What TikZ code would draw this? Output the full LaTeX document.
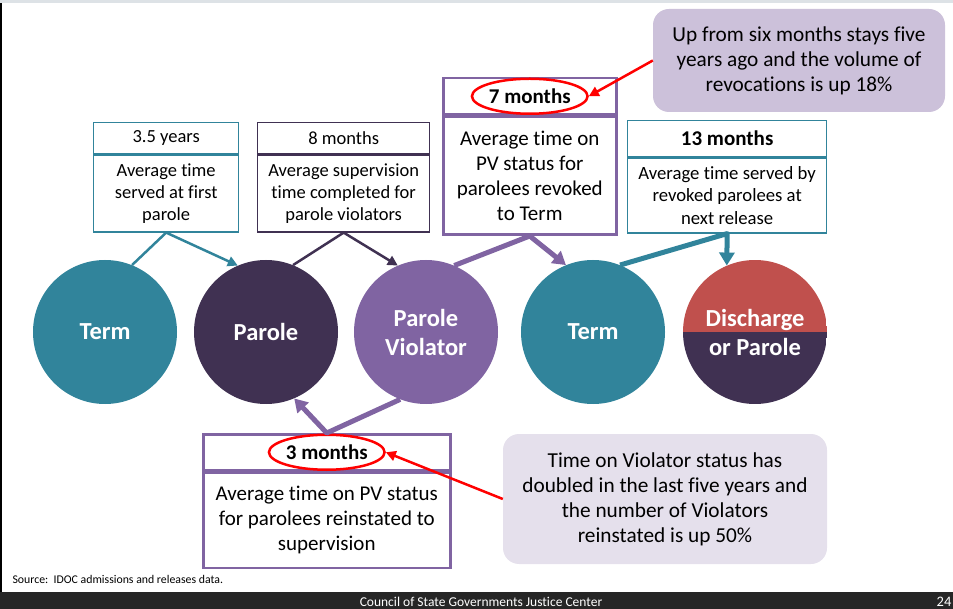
\documentclass[tikz,border=0pt]{standalone}
\usepackage{fontspec}
\setmainfont[Ligatures=NoCommon]{Carlito}
\usetikzlibrary{shapes.geometric,arrows.meta}

\definecolor{tealA}{HTML}{31849B}
\definecolor{plumdark}{HTML}{403152}
\definecolor{violetA}{HTML}{8064A2}
\definecolor{brick}{HTML}{C0504D}
\definecolor{noteA}{HTML}{CCC1DA}
\definecolor{noteB}{HTML}{E5E0EC}
\definecolor{footbg}{HTML}{262626}
\definecolor{topband}{HTML}{DDE2E6}
\definecolor{hilite}{HTML}{FF0000}

\begin{document}
\begin{tikzpicture}[x=1pt,y=-1pt,
  stage/.style={circle, minimum size=144pt, inner sep=0pt, text=white,
    font=\bfseries\fontsize{24.5}{29}\selectfont, align=center},
  hdrbox/.style={draw, fill=white, anchor=north west, inner sep=0pt, align=center},
  bodybox/.style={draw, fill=white, anchor=north west, inner sep=0pt, align=center},
  thinlink/.style={line width=2.5pt, line join=round, -{Triangle[length=10pt,width=10pt]}},
  thicklink/.style={line width=5pt, line join=round, -{Triangle[length=13pt,width=15pt]}},
  ring/.style={ellipse, draw=hilite, line width=2.5pt, inner sep=0pt,
    minimum width=108pt, minimum height=35pt, font=\bfseries\fontsize{21}{24}\selectfont},
  pointer/.style={hilite, line width=2.5pt, -{Triangle[length=10pt,width=10pt]}},
  note/.style={rounded corners=16pt, inner sep=0pt, align=center,
    font=\fontsize{21.3}{25}\selectfont}
]
\useasboundingbox (0,0) rectangle (953,609);

% slide frame
\fill[topband] (0,0) rectangle (953,3);
\fill[black] (0,3) rectangle (2,592);
\fill[footbg] (0,592) rectangle (953,609);
\node[text=white, font=\fontsize{13.5}{14}\selectfont] (foot) at (481,601.5) {Council of State Governments Justice Center};
\node[text=white, font=\fontsize{14.5}{15}\selectfont] (page) at (944,601.5) {24};
\node[anchor=west, font=\fontsize{11.8}{13}\selectfont] (src) at (9,579) {Source:\ \ IDOC admissions and releases data.};

% stages
\node[stage, fill=tealA] (term1) at (105,332) {Term};
\node[stage, fill=plumdark] (parole) at (266,332) {Parole};
\node[stage, fill=violetA] (pv) at (426,332) {Parole\\Violator};
\node[stage, fill=tealA] (term2) at (593,332) {Term};
\node[stage, path picture={
    \fill[brick] (path picture bounding box.north west) rectangle (path picture bounding box.east);
    \fill[plumdark] (path picture bounding box.west) rectangle (path picture bounding box.south east);
  }] (disc) at (755,332) {Discharge\\or Parole};

% box: 3.5 years
\node[hdrbox, draw=tealA, line width=1.3pt, minimum width=145pt, minimum height=31pt,
  font=\fontsize{18.5}{20}\selectfont] (h1) at (93,122) {3.5 years};
\node[bodybox, draw=tealA, line width=1.3pt, minimum width=145pt, minimum height=77pt,
  font=\fontsize{18.5}{22}\selectfont] (b1) at (h1.south west) {Average time\\served at first\\parole};

% box: 8 months
\node[hdrbox, draw=plumdark, line width=1.3pt, minimum width=172pt, minimum height=31pt,
  font=\fontsize{18.5}{20}\selectfont] (h2) at (257,122) {8 months};
\node[bodybox, draw=plumdark, line width=1.3pt, minimum width=172pt, minimum height=77pt,
  font=\fontsize{18.5}{22}\selectfont] (b2) at (h2.south west) {Average supervision\\time completed for\\parole violators};

% box: 7 months
\node[hdrbox, draw=violetA, line width=2.5pt, minimum width=173pt, minimum height=36pt] (h3) at (442,77) {};
\node[bodybox, draw=violetA, line width=2.5pt, minimum width=173pt, minimum height=118pt,
  font=\fontsize{21}{25}\selectfont] (b3) at (h3.south west) {Average time on\\PV status for\\parolees revoked\\to Term};
\node[ring] (r7) at (h3.center) {7 months};

% box: 13 months
\node[hdrbox, draw=tealA, line width=1.3pt, minimum width=199pt, minimum height=36pt,
  font=\bfseries\fontsize{21}{24}\selectfont] (h4) at (627,120) {13 months};
\node[bodybox, draw=tealA, line width=1.3pt, minimum width=199pt, minimum height=75pt,
  font=\fontsize{18.7}{22.5}\selectfont] (b4) at (h4.south west) {Average time served by\\revoked parolees at\\next release};

% box: 3 months
\node[hdrbox, draw=violetA, line width=2.5pt, minimum width=247pt, minimum height=36pt] (h5) at (202,433) {};
\node[bodybox, draw=violetA, line width=2.5pt, minimum width=247pt, minimum height=95pt,
  font=\fontsize{21}{25}\selectfont] (b5) at (h5.south west) {Average time on PV status\\for parolees reinstated to\\supervision};
\node[ring] (r3) at (h5.center) {3 months};

% flows between stages
\draw[tealA, thinlink] (term1.68) -- (b1.south) -- (parole.113);
\draw[plumdark, thinlink] (parole.68) -- (b2.south) -- (pv.113);
\draw[violetA, thicklink] (pv.67) -- (b3.south) -- (term2.112);
\draw[tealA, thicklink] (term2.68) -- (b4.south) -- (disc.113);
\draw[violetA, thicklink] (pv.249) -- (h5.north) -- (parole.293);

% notes
\node[note, fill=noteA, minimum width=292pt, minimum height=103pt] (n1) at (799,60.5)
  {Up from six months stays five\\years ago and the volume of\\revocations is up 18\%};
\node[note, fill=noteB, minimum width=324pt, minimum height=130pt] (n2) at (665,499)
  {Time on Violator status has\\doubled in the last five years and\\the number of Violators\\reinstated is up 50\%};

\draw[pointer] (n1.west) -- (r7.east);
\draw[pointer] (n2.west) -- (r3.east);
\end{tikzpicture}
\end{document}
